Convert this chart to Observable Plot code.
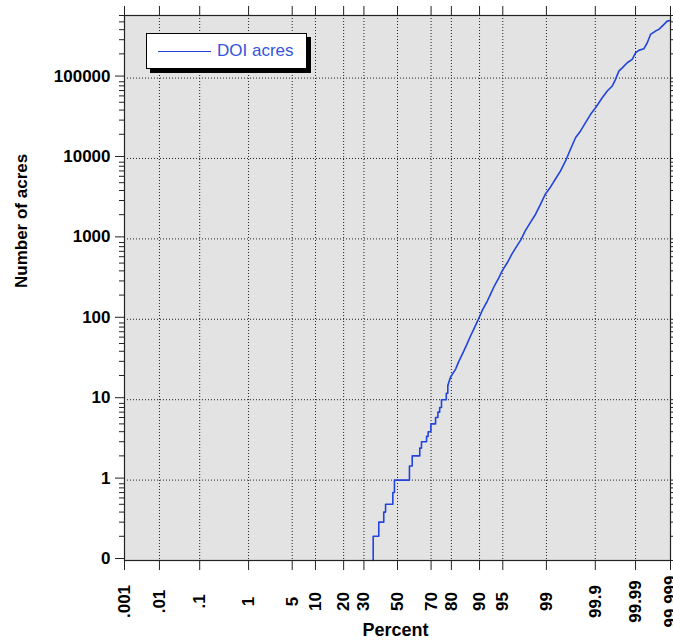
<!DOCTYPE html>
<html>
<head>
<meta charset="utf-8">
<script src="https://cdn.jsdelivr.net/npm/d3@7"></script>
<script src="https://cdn.jsdelivr.net/npm/@observablehq/plot@0.6"></script>
<style>
  html, body { margin: 0; padding: 0; background: white; }
  #wrap { position: relative; width: 673px; height: 643px; overflow: hidden; }
  #legend {
    position: absolute; left: 146px; top: 33px; width: 159px; height: 34px;
    background: white; border: 1px solid black; box-shadow: 4px 4px 0 black;
    font-family: "Liberation Sans", Arial, sans-serif; font-size: 17px; color: #3355dd;
  }
  #legend .sw { position: absolute; left: 11px; top: 17px; width: 53px; height: 0; border-top: 1.5px solid #2244dd; }
  #legend .lb { position: absolute; left: 70px; top: 7px; line-height: 19px; }
</style>
</head>
<body>
<div id="wrap">
  <div id="chart"></div>
  <div id="legend"><div class="sw"></div><div class="lb">DOI acres</div></div>
</div>
<script>
// ---- data ----
const stepPct   = [35.2, 35.2, 38.5, 41.5, 42.6, 47.1, 48.1, 57.4, 59.1, 63.6, 64.6, 67.5, 68.4, 69.9, 72.4, 73.6, 74.5, 75.4, 77.7, 78.4];
const stepAcres = [0.1, 0.2, 0.3, 0.4, 0.5, 0.7, 1, 1.5, 2, 2.5, 3, 3.5, 4, 5, 6, 7, 8, 10, 12, 15];

const upperPct = [78.4, 79.6, 81.8, 83.1, 84.8, 86.0, 87.3, 88.3, 89.5, 90.7, 92.0, 92.7, 93.5, 94.3, 94.9, 95.7, 96.3, 96.9, 97.3, 97.7,
  98.1, 98.45, 98.73, 98.96, 99.16, 99.32, 99.457, 99.567, 99.656, 99.729, 99.788, 99.8345, 99.872, 99.9013, 99.9309, 99.9476,
  99.9603, 99.967, 99.9728, 99.9777, 99.9834, 99.9877, 99.99, 99.9918, 99.99405, 99.99523, 99.99614, 99.99722, 99.99778, 99.99823,
  99.998745, 99.999];
const upperAcres = [15, 19, 24, 30, 39, 48, 62, 75, 96, 128, 170, 206, 261, 325, 400, 508, 646, 819, 972, 1257,
  1595, 2027, 2700, 3620, 4425, 5560, 7000, 9310, 13000, 18100, 22000, 27900, 35400, 42800, 56900, 69000,
  79600, 96400, 122000, 134000, 155000, 171000, 206000, 221000, 231000, 275000, 349000, 384000, 403000, 443000,
  511000, 520000];

const xTickPct    = [0.001, 0.01, 0.1, 1, 5, 10, 20, 30, 50, 70, 80, 90, 95, 99, 99.9, 99.99, 99.999];
const xTickLabels = [".001", ".01", ".1", "1", "5", "10", "20", "30", "50", "70", "80", "90", "95", "99", "99.9", "99.99", "99.999"];
const yMajor      = [0.1, 1, 10, 100, 1000, 10000, 100000];
const yTickLabels = ["0", "1", "10", "100", "1000", "10000", "100000"];
const yMax = 600000;

// ---- normal probability (probit) transform for the x axis ----
function probit(p) {
  const a = [-3.969683028665376e+01, 2.209460984245205e+02, -2.759285104469687e+02, 1.383577518672690e+02, -3.066479806614716e+01, 2.506628277459239e+00];
  const b = [-5.447609879822406e+01, 1.615858368580409e+02, -1.556989798598866e+02, 6.680131188771972e+01, -1.328068155288572e+01];
  const c = [-7.784894002430293e-03, -3.223964580411365e-01, -2.400758277161838e+00, -2.549732539343734e+00, 4.374664141464968e+00, 2.938163982698783e+00];
  const d = [7.784695709041462e-03, 3.224671290700398e-01, 2.445134137142996e+00, 3.754408661907416e+00];
  const plow = 0.02425;
  if (p < plow) {
    const q = Math.sqrt(-2 * Math.log(p));
    return (((((c[0]*q+c[1])*q+c[2])*q+c[3])*q+c[4])*q+c[5]) / ((((d[0]*q+d[1])*q+d[2])*q+d[3])*q+1);
  } else if (p <= 1 - plow) {
    const q = p - 0.5, r = q*q;
    return (((((a[0]*r+a[1])*r+a[2])*r+a[3])*r+a[4])*r+a[5])*q / (((((b[0]*r+b[1])*r+b[2])*r+b[3])*r+b[4])*r+1);
  } else {
    const q = Math.sqrt(-2 * Math.log(1 - p));
    return -(((((c[0]*q+c[1])*q+c[2])*q+c[3])*q+c[4])*q+c[5]) / ((((d[0]*q+d[1])*q+d[2])*q+d[3])*q+1);
  }
}
const zOf = pct => probit(pct / 100);

const stepData  = stepPct.map((p, i) => ({z: zOf(p), v: stepAcres[i]}));
const upperData = upperPct.map((p, i) => ({z: zOf(p), v: upperAcres[i]}));
const xTicks = xTickPct.map((p, i) => ({z: zOf(p), label: xTickLabels[i]}));
const xTickZ = xTicks.map(d => d.z);

const yMinor = [];
for (let e = -1; e <= 5; e++) for (let k = 2; k <= 9; k++) {
  const v = k * Math.pow(10, e);
  if (v <= yMax) yMinor.push(v);
}
const yLabelOf = v => yTickLabels[yMajor.indexOf(v)];

const font = "'Liberation Sans', Arial, sans-serif";
const lineColor = "#2244dd";
const axisColor = "#222";

const chart = Plot.plot({
  width: 673,
  height: 643,
  marginLeft: 124,
  marginRight: 3,
  marginTop: 15,
  marginBottom: 83,
  style: {fontFamily: font, background: "white", overflow: "hidden"},
  x: {type: "linear", domain: [zOf(0.001), zOf(99.999)], axis: null},
  y: {type: "log", domain: [0.1, yMax], axis: null},
  marks: [
    Plot.frame({fill: "#e3e3e3", stroke: null}),
    Plot.gridX(xTickZ, {stroke: "#222", strokeOpacity: 1, strokeDasharray: "1,2"}),
    Plot.gridY(yMajor.slice(1), {stroke: "#222", strokeOpacity: 1, strokeDasharray: "1,2"}),
    Plot.line(stepData, {x: "z", y: "v", curve: "step-after", stroke: lineColor, strokeWidth: 1.6}),
    Plot.line(upperData, {x: "z", y: "v", stroke: lineColor, strokeWidth: 1.6}),
    // frame
    Plot.frame({stroke: axisColor, strokeWidth: 1.2}),
    // bottom & top ticks
    Plot.axisX(xTickZ, {anchor: "bottom", label: null, tickSize: 10, tickFormat: () => "", stroke: axisColor}),
    Plot.axisX(xTickZ, {anchor: "top", label: null, tickSize: 10, tickFormat: () => "", stroke: axisColor}),
    // left ticks + labels
    Plot.axisY(yMinor, {anchor: "left", label: null, tickSize: 5, tickFormat: () => "", stroke: axisColor}),
    Plot.axisY(yMajor, {anchor: "left", label: null, tickSize: 9, tickPadding: 5, tickFormat: yLabelOf, stroke: axisColor,
      fontSize: 17, fontWeight: "bold", fill: "black", dy: -2}),
    // right ticks
    Plot.axisY(yMinor, {anchor: "right", label: null, tickSize: 5, tickFormat: () => "", stroke: axisColor}),
    Plot.axisY(yMajor, {anchor: "right", label: null, tickSize: 9, tickFormat: () => "", stroke: axisColor}),
    // x tick labels (rotated)
    Plot.text(xTicks, {x: "z", text: "label", frameAnchor: "bottom", dy: 41, rotate: -90,
      textAnchor: "middle", lineAnchor: "middle", fontSize: 17, fontWeight: "bold", fill: "black"}),
    // axis titles
    Plot.text(["Percent"], {text: d => d, frameAnchor: "bottom", dy: 70, dx: -2, lineAnchor: "middle",
      fontSize: 18, fontWeight: "bold", fill: "black"}),
    Plot.text(["Number of acres"], {text: d => d, frameAnchor: "left", dx: -103, rotate: -90, lineAnchor: "middle",
      fontSize: 17, fontWeight: "bold", fill: "black"})
  ]
});
document.getElementById("chart").appendChild(chart);
</script>
</body>
</html>
